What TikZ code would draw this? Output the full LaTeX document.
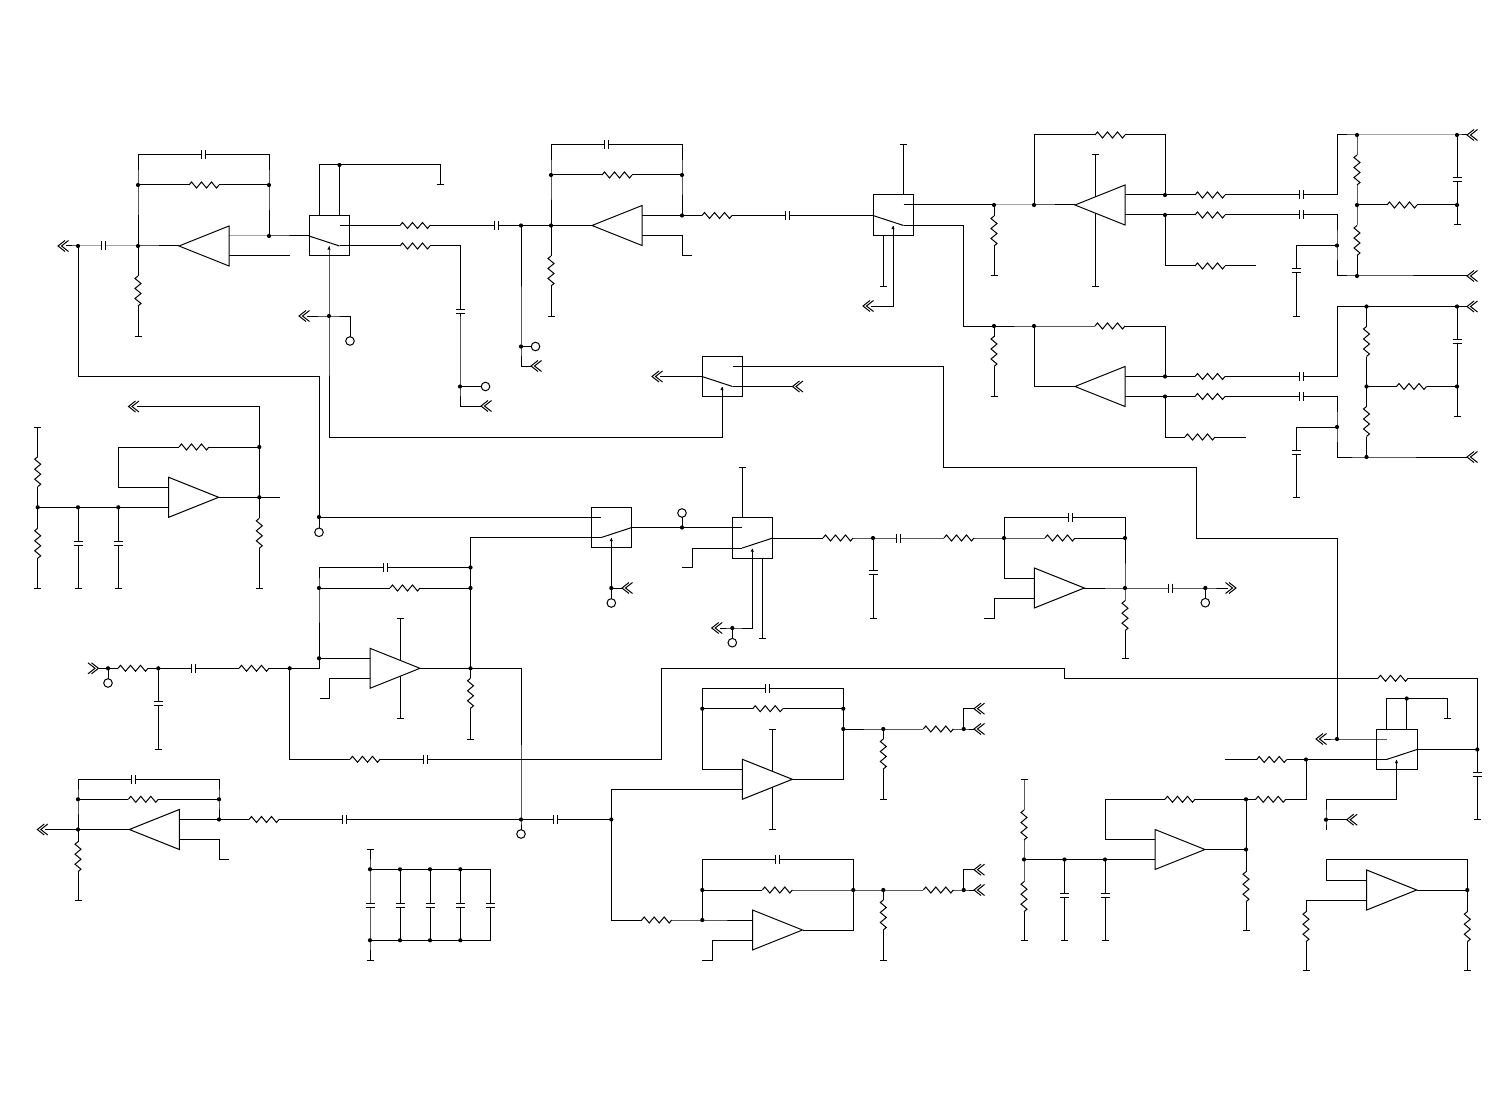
\documentclass[tikz,border=0pt]{standalone}
\usepackage{tikz}
\newcommand\J[3]{\coordinate (#1) at (#2,#3); \fill (#1) circle[radius=1.05pt];}
\newcommand\K[3]{\coordinate (#1) at (#2,#3);}
\newcommand\G[3]{\coordinate (#1) at (#2,#3); \draw ([xshift=-1.75pt]#1) -- ([xshift=1.75pt]#1);}
\newcommand\Ring[3]{\node[ringnode] (#1) at (#2,#3) {};}
\newcommand\RH[2]{\begin{scope}[shift={(#1,#2)}]\fill[white] (-15,-1) rectangle (15,1);\draw (-15,0)--(-12.5,-3)--(-7.5,3)--(-2.5,-3)--(2.5,3)--(7.5,-3)--(12.5,3)--(15,0);\end{scope}}
\newcommand\RV[2]{\begin{scope}[shift={(#1,#2)}]\fill[white] (-1,-15) rectangle (1,15);\draw (0,-15)--(-3,-12.5)--(3,-7.5)--(-3,-2.5)--(3,2.5)--(-3,7.5)--(3,12.5)--(0,15);\end{scope}}
\newcommand\CH[2]{\begin{scope}[shift={(#1,#2)}]\fill[white] (-2,-1) rectangle (2,1);\draw (-2,-4.5)--(-2,4.5) (2,-4.5)--(2,4.5);\end{scope}}
\newcommand\CV[2]{\begin{scope}[shift={(#1,#2)}]\fill[white] (-1,-2) rectangle (1,2);\draw (-4.5,-2)--(4.5,-2) (-4.5,2)--(4.5,2);\end{scope}}
\newcommand\AR[3]{\coordinate (#1-tip) at (#2+50,#3);\coordinate (#1-a) at (#2,#3-10);\coordinate (#1-b) at (#2,#3+10);\draw (#2,#3-20)--(#1-tip)--(#2,#3+20)--cycle;}
\newcommand\AL[3]{\coordinate (#1-tip) at (#2,#3);\coordinate (#1-a) at (#2+50,#3-10);\coordinate (#1-b) at (#2+50,#3+10);\draw (#2+50,#3-20)--(#1-tip)--(#2+50,#3+20)--cycle;}
\newcommand\SWR[3]{\node[swbox] (#1) at (#2+20.25,#3+20.25) {};\coordinate (#1-i) at (#2,#3+20.5);\coordinate (#1-p) at (#2+30.5,#3+10);\coordinate (#1-q) at (#2+30.5,#3+30.5);\coordinate (#1-c) at (#2+20,#3+31);\draw (#1-i)--(#1-q);\fill (#1-c)--++(-1.7,3.2)--++(3.4,0)--cycle;}
\newcommand\SWL[3]{\node[swbox] (#1) at (#2+20.25,#3+20.25) {};\coordinate (#1-i) at (#2+40.5,#3+20.5);\coordinate (#1-p) at (#2+10,#3+10);\coordinate (#1-q) at (#2+10,#3+30.5);\coordinate (#1-c) at (#2+20,#3+31);\draw (#1-i)--(#1-q);\fill (#1-c)--++(-1.7,3.2)--++(3.4,0)--cycle;}
\newcommand\ChL[3]{\coordinate (#1) at (#2,#3);\coordinate (#1-r) at (#2+8,#3);\draw (#2+7,#3-5.5)--(#2,#3)--(#2+7,#3+5.5) (#2+10.5,#3-5.5)--(#2+3.5,#3)--(#2+10.5,#3+5.5);}
\newcommand\ChR[3]{\coordinate (#1) at (#2,#3);\coordinate (#1-l) at (#2-8,#3);\draw (#2-7,#3-5.5)--(#2,#3)--(#2-7,#3+5.5) (#2-10.5,#3-5.5)--(#2-3.5,#3)--(#2-10.5,#3+5.5);}
\tikzset{ringnode/.style={draw,circle,fill=white,inner sep=0pt,minimum width=4.3pt,minimum height=4.3pt,outer sep=0pt},
 swbox/.style={draw,rectangle,inner sep=0pt,outer sep=0pt,minimum width=20.25pt,minimum height=20.25pt}}
\begin{document}
\begin{tikzpicture}[x=0.5pt,y=-0.5pt,line width=0.5pt,line join=miter]
\useasboundingbox (0,0) rectangle (1512,1102);
\fill[white] (0,0) rectangle (1512,1102);

% ---------- top left stage
\ChL{c1}{58}{246}
\J{a1}{78}{246}\J{a2}{138}{246}\J{a3}{138}{185}\J{a4}{269}{185}\J{a5}{269}{236}
\K{a6}{138}{155}\K{a7}{269}{155}\K{a8}{290}{256}\G{a9}{138}{336.5}
\AL{U1}{179}{246}
\SWR{S1}{309}{215.5}
\K{b1}{319}{165}\J{b2}{339.5}{165}\K{b3}{440}{165}\G{b4}{440}{185}
\K{b5}{319}{215.5}\K{b6}{339.5}{215.5}
\draw (c1-r)--(a1)--(a2)--(U1-tip);
\draw (a2)--(a3)--(a6)--(a7)--(a4)--(a5);
\draw (a3)--(a4);
\draw (U1-a)--(a5)--(S1-i);
\draw (U1-b)--(a8);
\draw (a2)--(a9);
\draw (b5)--(b1)--(b3)--(b4);
\draw (b6)--(b2);
\RV{138}{291}\CH{103}{246}\CH{203.5}{155}\RH{204}{185}
% switch 1 outputs
\K{d1}{460}{246}\J{d2}{460}{386.5}\K{d3}{460}{406}\ChL{c2}{481}{406}\Ring{o1}{485.5}{386.5}
\J{e1}{521}{225.5}\J{e2}{551}{225.5}
\draw (S1-q)--(d1)--(d2)--(d3)--(c2);
\draw (d2)--(o1);
\draw (S1-p)--(e1)--(e2);
\RH{415}{225.5}\RH{415}{246}\CV{460}{311}\CH{496}{225.5}
% control line
\J{f1}{329}{316}\K{f2}{350}{316}\Ring{o2}{350}{341}\ChL{c3}{299}{316}\K{f3}{329}{437}
\draw (S1-c)--(f1)--(f3);
\draw (c3-r)--(f1)--(f2)--(o2);

% ---------- second stage
\AL{U2}{592}{225.5}
\J{g1}{682}{215.5}\J{g2}{551}{175}\J{g3}{682}{175}\K{g4}{551}{145}\K{g5}{682}{145}
\K{g6}{682}{235.5}\K{g7}{682}{255.5}\K{g8}{692}{255.5}\G{g9}{551}{316}
\draw (e2)--(U2-tip);
\draw (e2)--(g2)--(g4)--(g5)--(g3)--(g1);
\draw (g2)--(g3);
\draw (U2-a)--(g1);
\draw (U2-b)--(g6)--(g7)--(g8);
\draw (e2)--(g9);
\CH{606}{145}\RH{617}{175}\RV{551}{271}
\J{h1}{521}{346.5}\K{h2}{521}{366}\Ring{o3}{535.5}{346.5}\ChL{c4}{531}{366}
\draw (e1)--(h1)--(h2)--(c4);
\draw (h1)--(o3);

% ---------- switch 2
\SWR{S2}{873}{195}
\draw (g1)--(S2-i);
\RH{717}{215.5}\CH{787}{215.5}
\K{i1}{903}{195}\G{i2}{903}{145}\K{i3}{883}{236}\G{i4}{883}{286}\K{i5}{893}{306}\ChL{c5}{863}{306}
\draw (i1)--(i2);
\draw (i3)--(i4);
\draw (S2-c)--(i5)--(c5-r);
\J{j1}{994}{205}\K{j2}{963.5}{225.5}\K{j3}{963.5}{326}\J{j4}{994}{326}\G{j5}{994}{276}\G{j6}{994}{396.5}
\draw (S2-p)--(j1);
\draw (S2-q)--(j2)--(j3)--(j4);
\draw (j1)--(j5);
\draw (j4)--(j6);
\RV{994}{231}\RV{994}{351.5}

% ---------- upper differential amp
\J{k1}{1034}{205}\AL{U3}{1075}{205}
\K{k2}{1034}{135}\K{k3}{1165}{135}\J{k4}{1165}{195}\J{k5}{1165}{215}
\G{k6}{1095}{155}\K{k7}{1095}{197}\K{k8}{1095}{213}\G{k9}{1095}{286}
\draw (j1)--(k1)--(U3-tip);
\draw (k1)--(k2)--(k3)--(k4);
\draw (U3-a)--(k4);
\draw (U3-b)--(k5);
\draw (k6)--(k7);
\draw (k8)--(k9);
\K{l1}{1337}{195}\K{l2}{1337}{135}\J{m1}{1357}{135}\J{m2}{1457}{135}\ChL{c6}{1467}{135}
\K{l3}{1337}{215}\J{l4}{1337}{245.5}\K{l5}{1337}{276}\J{m3}{1357}{276}\ChL{c7}{1467}{276}
\K{l6}{1296}{245.5}\G{l7}{1296}{316}\K{l8}{1165}{266}\K{l9}{1256}{266}
\J{m4}{1357}{205}\J{m5}{1457}{205}\G{m6}{1457}{225}
\draw (k4)--(l1)--(l2)--(m1)--(m2)--(c6);
\draw (k5)--(l3)--(l4)--(l5)--(m3)--(c7);
\draw (l4)--(l6)--(l7);
\draw (k5)--(l8)--(l9);
\draw (m1)--(m4)--(m3);
\draw (m4)--(m5);
\draw (m2)--(m5)--(m6);
\RH{1110}{135}\RH{1210}{195}\CH{1301}{195}\RH{1210}{215}\CH{1301}{215}\RH{1210}{266}\CV{1296}{271}
\RV{1357}{170}\RV{1357}{240.5}\RH{1402}{205}\CV{1457}{180}

% ---------- lower differential amp
\J{n1}{1034}{326}\AL{U4}{1075}{386.5}
\K{n2}{1034}{386.5}\K{n3}{1165}{326}\J{n4}{1165}{376.5}\J{n5}{1165}{396.5}
\draw (j4)--(n1)--(n3)--(n4);
\draw (n1)--(n2)--(U4-tip);
\draw (U4-a)--(n4);
\draw (U4-b)--(n5);
\K{p1}{1337}{376.5}\K{p2}{1337}{306.5}\J{q1}{1366.5}{306.5}\J{q2}{1457}{306.5}\ChL{c8}{1467}{306.5}
\K{p3}{1337}{396.5}\J{p4}{1337}{427}\K{p5}{1337}{457}\J{q3}{1366.5}{457}\ChL{c9}{1467}{457}
\K{p6}{1296}{427}\G{p7}{1296}{497}\K{p8}{1165}{437}\K{p9}{1246}{437}
\J{q4}{1366.5}{386.5}\J{q5}{1457}{386.5}\G{q6}{1457}{416}
\draw (n4)--(p1)--(p2)--(q1)--(q2)--(c8);
\draw (n5)--(p3)--(p4)--(p5)--(q3)--(c9);
\draw (p4)--(p6)--(p7);
\draw (n5)--(p8)--(p9);
\draw (q1)--(q4)--(q3);
\draw (q4)--(q5);
\draw (q2)--(q5)--(q6);
\RH{1110}{326}\RH{1210}{376.5}\CH{1301}{376.5}\RH{1210}{396.5}\CH{1301}{396.5}\RH{1200}{437}\CV{1296}{452}
\RV{1366.5}{341.5}\RV{1366.5}{421.5}\RH{1411.5}{386.5}\CV{1457}{341}

% ---------- switch 3
\SWR{S3}{702}{356}
\ChL{c10}{652}{376.5}\ChL{c11}{792.5}{386.5}
\K{r1}{943}{366}\K{r2}{943}{467}\K{r3}{1196}{467}\K{r4}{1196}{538}\K{r5}{1337}{538}\J{r6}{1337}{739}
\K{r7}{722}{437}
\draw (c10-r)--(S3-i);
\draw (S3-q)--(c11);
\draw (S3-p)--(r1)--(r2)--(r3)--(r4)--(r5)--(r6);
\draw (f3)--(r7)--(S3-c);

% ---------- left middle follower
\ChL{c12}{128.5}{406.5}
\K{s1}{259.3}{406.5}\J{s2}{259.3}{447}\J{s3}{259.3}{497.3}\K{s4}{280}{497.3}\G{s5}{259.3}{588.3}
\K{s6}{118.3}{447}\K{s7}{118.3}{487.3}\AR{U5}{168.7}{497.3}
\J{s8}{37.7}{507.3}\J{s9}{78}{507.3}\J{s10}{118.3}{507.3}
\G{s11}{37.7}{427.3}\G{s12}{37.7}{588.3}\G{s13}{78}{588.3}\G{s14}{118.3}{588.3}
\draw (c12-r)--(s1)--(s2)--(s3)--(s5);
\draw (s2)--(s6)--(s7)--(U5-a);
\draw (U5-tip)--(s3)--(s4);
\draw (s8)--(s9)--(s10)--(U5-b);
\draw (s11)--(s8)--(s12);
\draw (s9)--(s13);
\draw (s10)--(s14);
\RH{194}{447}\RV{259.3}{533.3}\RV{37.7}{471.7}\RV{37.7}{543.3}\CV{78}{543}\CV{118.3}{543}

% ---------- switches 4, 5
\K{t1}{78}{376}\K{t2}{319}{376}\J{t3}{319}{517}\Ring{o4}{319}{532.3}
\SWL{S4}{591.3}{507}\SWL{S5}{732.3}{517.5}
\draw (a1)--(t1)--(t2)--(t3)--(S4-p);
\draw (t3)--(o4);
\J{u1}{682}{527.5}\Ring{o5}{682}{513}
\draw (S4-i)--(u1)--(S5-p);
\draw (u1)--(o5);
\K{u2}{692.5}{548}\K{u3}{692.5}{567.5}\K{u4}{682}{567.5}
\draw (S5-q)--(u2)--(u3)--(u4);
\K{u5}{742.3}{517.5}\G{u6}{742.3}{467.3}\K{u7}{762.5}{558}\G{u8}{762.5}{638.3}
\draw (u5)--(u6);
\draw (u7)--(u8);
\K{u9}{752.3}{628}\J{u10}{732.3}{628}\ChL{c13}{711.7}{628}\Ring{o6}{732.3}{642.7}
\draw (S5-c)--(u9)--(u10)--(c13-r);
\draw (u10)--(o6);
\J{v1}{611.3}{588}\Ring{o7}{611.3}{603}\ChL{c14}{622}{588}
\draw (S4-c)--(v1)--(o7);
\draw (v1)--(c14);

% ---------- right-middle stage
\J{w1}{873}{538}\G{w2}{873}{618.3}\J{w3}{1004}{538}\J{w4}{1125}{538}
\K{w5}{1004}{517.5}\K{w6}{1125}{517.5}\J{w7}{1125}{588}\AR{U6}{1034.3}{588}
\K{w8}{1004}{578}\K{w9}{994.3}{598}\K{w10}{994.3}{618.3}\K{w11}{984}{618.3}
\J{w12}{1205.3}{588}\ChR{c15}{1236}{588}\Ring{o8}{1205.3}{602.7}\G{w13}{1125}{658.3}
\draw (S5-i)--(w1)--(w3)--(w4)--(w7)--(w13);
\draw (w1)--(w2);
\draw (w3)--(w5)--(w6)--(w4);
\draw (w3)--(w8)--(U6-a);
\draw (U6-b)--(w9)--(w10)--(w11);
\draw (U6-tip)--(w7)--(w12)--(c15-l);
\draw (w12)--(o8);
\RH{838}{538}\CH{898}{538}\RH{959}{538}\CV{873}{572.7}\CH{1070}{517.5}\RH{1060}{538}\CH{1170}{588}\RV{1125}{615.7}

% ---------- centre-left stage
\ChR{c16}{98.5}{668.3}\J{x1}{108}{668.3}\Ring{o9}{108}{683}\J{x2}{158.3}{668.3}\J{x3}{289.7}{668.3}
\K{x4}{319}{668.3}\J{x5}{319}{658.3}\J{x6}{319}{588}\K{x7}{319}{567.5}
\J{x8}{470.5}{567.5}\J{x9}{470.5}{588}\J{x10}{470.5}{668.3}\K{x11}{470.5}{537.5}
\AR{U7}{370}{668.3}
\K{x12}{521}{668.3}\J{x13}{521}{819.5}\Ring{o10}{521}{834}
\draw (c16)--(x1)--(x2)--(x3)--(x4)--(x5)--(U7-a);
\draw (x1)--(o9);
\draw (x5)--(x6)--(x7)--(x8)--(x9)--(x10);
\draw (x6)--(x9);
\draw (S4-q)--(x11)--(x8);
\draw (U7-tip)--(x10)--(x12)--(x13)--(o10);
\K{x14}{329.7}{678.3}\K{x15}{329.7}{698}\K{x16}{319.7}{698}
\draw (U7-b)--(x14)--(x15)--(x16);
\G{x17}{400}{618.3}\K{x18}{400}{660.3}\K{x19}{400}{676.3}\G{x20}{400}{718.3}
\draw (x17)--(x18);
\draw (x19)--(x20);
\G{x21}{470.5}{739.3}\G{x22}{158.3}{749.3}
\draw (x10)--(x21);
\draw (x2)--(x22);
\CH{385}{567.5}\RH{405}{588}\RV{470.5}{693.3}\RH{133}{668.3}\CH{193}{668.3}\RH{254}{668.3}\CV{158.3}{703.3}
% long feedback to switch 6
\K{y1}{289.7}{759.3}\K{y2}{661.5}{759.3}\K{y3}{661.5}{668.3}\K{y4}{1064.5}{668.3}\K{y5}{1064.5}{678.3}\K{y6}{1477.3}{678.3}\J{y7}{1477.3}{749.5}\G{y8}{1477.3}{819.3}
\draw (x3)--(y1)--(y2)--(y3)--(y4)--(y5)--(y6)--(y7)--(y8);
\RH{365}{759.3}\CH{425.3}{759.3}\RH{1393}{678.3}\CV{1477.3}{774.3}

% ---------- bottom-left stage
\AL{U8}{129.3}{829.5}\ChL{c17}{37.3}{829.5}
\J{z1}{78}{829.5}\J{z2}{78}{799.3}\K{z3}{78}{779.3}\K{z4}{219}{779.3}\J{z5}{219}{799.3}\J{z6}{219}{819.5}
\K{z7}{219}{839.5}\K{z8}{219}{859.7}\K{z9}{229.3}{859.7}\G{z10}{78}{900.3}\J{z11}{611.3}{819.5}
\draw (c17-r)--(z1)--(U8-tip);
\draw (z1)--(z2)--(z3)--(z4)--(z5)--(z6);
\draw (z2)--(z5);
\draw (U8-a)--(z6)--(x13)--(z11);
\draw (U8-b)--(z7)--(z8)--(z9);
\draw (z1)--(z10);
\RV{78}{856.7}\CH{133.3}{779.3}\RH{143.3}{799.3}\RH{264}{819.5}\CH{344.7}{819.5}\CH{555}{819.5}

% ---------- capacitor bank
\G{ba}{370}{849.3}\J{bb}{370}{869.3}\J{bc}{400}{869.3}\J{bd}{430}{869.3}\J{be}{460.3}{869.3}\K{bf}{490.7}{869.3}
\J{bg}{370}{940.3}\J{bh}{400}{940.3}\J{bi}{430}{940.3}\J{bj}{460.3}{940.3}\K{bk}{490.7}{940.3}\G{bl}{370}{960.3}
\draw (ba)--(bb)--(bg)--(bl);
\draw (bb)--(bc)--(bd)--(be)--(bf)--(bk)--(bj)--(bi)--(bh)--(bg);
\draw (bc)--(bh);
\draw (bd)--(bi);
\draw (be)--(bj);
\CV{370}{905}\CV{400}{905}\CV{430}{905}\CV{460.3}{905}\CV{490.7}{905}

% ---------- centre amp A
\AR{UA}{742.3}{779.3}
\K{ca}{611.3}{789.3}\K{cb}{702.3}{769.3}\J{cc}{702.3}{708.7}\K{cd}{702.3}{688.3}\K{ce}{843.3}{688.3}\J{cf}{843.3}{708.7}\J{cg}{843.3}{729}\K{ch}{843.3}{779.3}
\J{ci}{883.3}{729}\J{cj}{963.7}{729}\K{ck}{963.7}{708.7}\ChL{c18}{974}{729}\ChL{c19}{974}{708.7}\G{cl}{883.3}{799.3}
\G{cm}{772.3}{729}\K{cn}{772.3}{771.3}\K{co}{772.3}{787.3}\G{cp}{772.3}{829.3}
\draw (z11)--(ca)--(UA-b);
\draw (UA-a)--(cb)--(cc)--(cd)--(ce)--(cf)--(cg)--(ch)--(UA-tip);
\draw (cc)--(cf);
\draw (cg)--(ci)--(cj)--(c18);
\draw (cj)--(ck)--(c19);
\draw (ci)--(cl);
\draw (cm)--(cn);
\draw (co)--(cp);
\RH{767.7}{708.7}\CH{767.7}{688.3}\RV{883.3}{754}\RH{938.3}{729}

% ---------- centre amp B
\AR{UB}{752.5}{930}
\J{da}{702.3}{920}\K{db}{611.3}{920}\K{dc}{702.3}{859.3}\K{dd}{853.3}{859.3}\J{de}{702.3}{890}\J{df}{853.3}{890}\K{dg}{853.3}{930}
\J{dh}{883.3}{890}\J{di}{963.7}{890}\K{dj}{963.7}{869.7}\ChL{c20}{974}{890}\ChL{c21}{974}{869.7}\G{dk}{883.3}{960.3}
\K{dl}{712.3}{940}\K{dm}{712.3}{960.3}\K{dn}{701.7}{960.3}
\draw (z11)--(db)--(da)--(UB-a);
\draw (da)--(de)--(dc)--(dd)--(df)--(dg)--(UB-tip);
\draw (de)--(df)--(dh)--(di)--(c20);
\draw (di)--(dj)--(c21);
\draw (dh)--(dk);
\draw (UB-b)--(dl)--(dm)--(dn);
\RH{656.7}{920}\CH{777.3}{859.3}\RH{777.3}{890}\RV{883.3}{915}\RH{938.3}{890}

% ---------- bottom-right amp with switch 6
\J{ea}{1024}{859.5}\G{eb}{1024}{779}\G{ec}{1024}{940}\J{ed}{1064.5}{859.5}\J{ee}{1105}{859.5}
\AR{U9}{1155}{849.5}
\K{ef}{1105}{839.5}\K{eg}{1105}{799.3}\J{eh}{1246}{799.3}\K{ei}{1306}{799.3}\J{ej}{1306}{759.5}\J{ek}{1246}{849.5}\G{el}{1246}{930.3}\G{em}{1064.5}{940}\G{en}{1105}{940}
\draw (eb)--(ea)--(ec);
\draw (ea)--(ed)--(ee)--(U9-b);
\draw (ed)--(em);
\draw (ee)--(en);
\draw (U9-a)--(ef)--(eg)--(eh)--(ei)--(ej);
\draw (U9-tip)--(ek)--(eh);
\draw (ek)--(el);
\RH{1180}{799.3}\RH{1270.7}{799.3}\RV{1024}{825}\RV{1024}{896.7}\CV{1064.5}{895}\CV{1105}{895}\RV{1246}{886.7}
\SWL{S6}{1376.5}{729}
\K{fa}{1225}{759.5}\ChL{c22}{1316}{739}
\draw (fa)--(ej)--(S6-q);
\draw (S6-p)--(r6)--(c22-r);
\draw (S6-i)--(y7);
\RH{1271.7}{759.5}
\K{fb}{1386.5}{729}\K{fc}{1386.5}{698.5}\J{fd}{1406.7}{698.5}\K{fe}{1447}{698.5}\G{ff}{1447}{718.5}\K{fg}{1406.7}{729}
\draw (fb)--(fc)--(fd)--(fe)--(ff);
\draw (fg)--(fd);
\K{fh}{1396.5}{799.3}\K{fi}{1326}{799.3}\J{fj}{1326}{819.7}\K{fk}{1326}{830}\ChL{c23}{1346.7}{819.7}
\draw (S6-c)--(fh)--(fi)--(fj)--(fk);
\draw (fj)--(c23);

% ---------- follower bottom right
\AR{U10}{1366.7}{890}
\K{ga}{1326}{880}\K{gb}{1326}{859.3}\K{gc}{1467.3}{859.3}\J{gd}{1467.3}{890}\G{ge}{1467.3}{970.3}\K{gf}{1306}{900}\G{gg}{1306}{970.3}
\draw (U10-a)--(ga)--(gb)--(gc)--(gd)--(ge);
\draw (U10-tip)--(gd);
\draw (U10-b)--(gf)--(gg);
\RV{1467.3}{926.7}\RV{1306}{926.7}
\end{tikzpicture}
\end{document}
